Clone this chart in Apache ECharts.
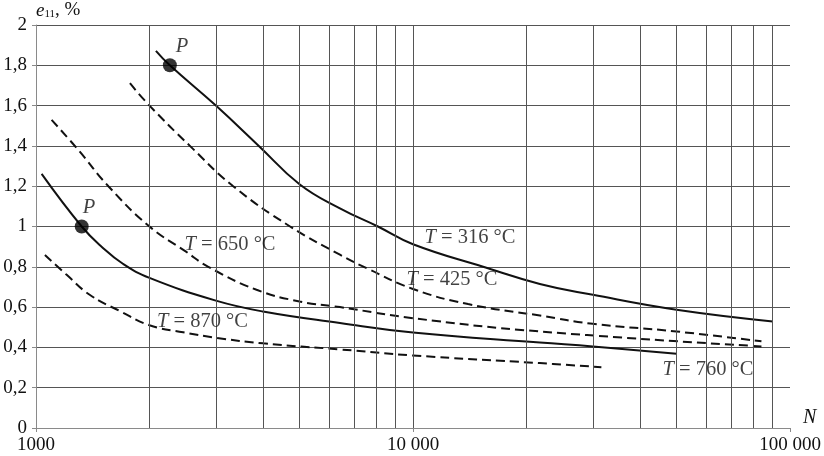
<!DOCTYPE html>
<html>
<head>
<meta charset="utf-8">
<script src="https://cdn.jsdelivr.net/npm/echarts@6/dist/echarts.min.js"></script>
<style>
  html, body { margin: 0; padding: 0; background: #fff; }
  #chart { width: 824px; height: 456px; }
</style>
</head>
<body>
<div id="chart"></div>
<script>
// curves: [N, e11 %]
const curve316 = [[2080, 1.872], [2265, 1.8], [3000, 1.6], [3900, 1.4], [5000, 1.21], [6400, 1.09], [8070, 1.0], [10000, 0.912], [15350, 0.8], [21700, 0.715], [30000, 0.661], [50000, 0.587], [90000, 0.529]]
const curve425 = [[1775, 1.711], [2000, 1.6], [2560, 1.4], [3335, 1.2], [4720, 1.0], [6400, 0.86], [7600, 0.79], [10000, 0.69], [14000, 0.615], [21700, 0.558], [30000, 0.517], [50000, 0.479], [84000, 0.43]]
const curve650 = [[1100, 1.529], [1295, 1.38], [1556, 1.2], [2000, 1.0], [2500, 0.875], [2864, 0.8], [3846, 0.686], [5000, 0.628], [6400, 0.6], [10000, 0.545], [21700, 0.479], [84000, 0.405]]
const curve760 = [[1035, 1.261], [1322, 1.0], [1500, 0.896], [1700, 0.815], [2000, 0.745], [3000, 0.632], [4000, 0.578], [6400, 0.521], [10000, 0.474], [21700, 0.424], [30000, 0.405], [50000, 0.368]]
const curve870 = [[1056, 0.859], [1206, 0.76], [1391, 0.66], [1671, 0.58], [2000, 0.51], [2457, 0.475], [3000, 0.448], [4000, 0.42], [6400, 0.39], [10000, 0.36], [21700, 0.322], [31600, 0.302]]
const pPoints = [[2265, 1.8], [1322, 1.0]]
// text labels: [N, e11, text]
const notes = [
  [3271, 0.909, 'T|650'],
  [2764, 0.529, 'T|870'],
  [14165, 0.944, 'T|316'],
  [12690, 0.735, 'T|425'],
  [60600, 0.289, 'T|760'],
  [2438, 1.892, 'P'],
  [1382, 1.092, 'P']
]
const gridN = [2000, 3000, 4000, 5000, 6000, 7000, 8000, 9000, 10000, 20000, 30000, 40000, 50000, 60000, 70000, 80000, 90000]

const font = 'Liberation Serif'
const ink = '#111'

function curve (data, dashed) {
  return {
    type: 'line',
    data: data,
    showSymbol: false,
    smooth: 0.45,
    z: 3,
    lineStyle: { color: ink, width: 2, type: dashed ? [9, 5] : 'solid' }
  }
}

const chart = echarts.init(document.getElementById('chart'))
const option = {
  animation: false,
  backgroundColor: '#fff',
  grid: { left: 36, right: 34, top: 25, bottom: 28 },
  xAxis: {
    type: 'log',
    logBase: 10,
    min: 1000,
    max: 100000,
    name: 'N',
    nameLocation: 'end',
    nameGap: 13,
    nameTextStyle: { fontFamily: font, fontStyle: 'italic', fontSize: 20, color: ink, verticalAlign: 'bottom' },
    axisLine: { lineStyle: { color: '#8a8a8a', width: 1 } },
    axisTick: { show: true, length: 4, lineStyle: { color: '#8a8a8a' } },
    splitLine: { show: false },
    minorTick: { show: false },
    axisLabel: {
      fontFamily: font,
      fontSize: 19,
      color: ink,
      margin: 8,
      formatter: function (v) {
        if (v >= 10000) {
          const s = String(Math.round(v))
          return s.slice(0, s.length - 3) + ' ' + s.slice(-3)
        }
        return String(Math.round(v))
      }
    }
  },
  yAxis: {
    type: 'value',
    min: 0,
    max: 2,
    interval: 0.2,
    name: '{e|e}{s|11}{n|, %}',
    nameLocation: 'end',
    nameGap: 5,
    nameTextStyle: {
      align: 'left',
      verticalAlign: 'bottom',
      rich: {
        e: { fontFamily: font, fontStyle: 'italic', fontSize: 19, color: ink },
        s: { fontFamily: font, fontSize: 11, color: ink, padding: [8, 0, 0, 0] },
        n: { fontFamily: font, fontSize: 19, color: ink }
      }
    },
    axisLine: { show: true, lineStyle: { color: '#8a8a8a', width: 1 } },
    axisTick: { show: true, length: 4, lineStyle: { color: '#8a8a8a' } },
    splitLine: { show: true, lineStyle: { color: '#555', width: 1 } },
    axisLabel: {
      fontFamily: font,
      fontSize: 19,
      color: ink,
      margin: 9,
      formatter: function (v) {
        return String(Number(v.toFixed(1))).replace('.', ',')
      }
    }
  },
  series: [
    {
      type: 'line',
      data: [],
      z: 1,
      silent: true,
      markLine: {
        silent: true,
        symbol: ['none', 'none'],
        label: { show: false },
        lineStyle: { color: '#555', width: 1, type: 'solid' },
        data: gridN.map(n => ({ xAxis: n }))
      }
    },
    curve(curve316, false),
    curve(curve425, true),
    curve(curve650, true),
    curve(curve760, false),
    curve(curve870, true),
    {
      type: 'scatter',
      data: pPoints,
      symbolSize: 14,
      z: 4,
      itemStyle: { color: '#000' }
    },
    {
      type: 'scatter',
      data: notes,
      symbolSize: 0,
      z: 5,
      silent: true,
      label: {
        show: true,
        position: 'inside',
        color: ink,
        fontFamily: font,
        fontSize: 20.5,
        formatter: function (p) {
          const t = p.data[2]
          if (t === 'P') return '{i|P}'
          return '{i|T} = ' + t.split('|')[1] + ' °C'
        },
        rich: {
          i: { fontFamily: font, fontStyle: 'italic', fontSize: 20.5, color: ink }
        }
      }
    }
  ]
}
chart.setOption(option)
</script>
</body>
</html>
